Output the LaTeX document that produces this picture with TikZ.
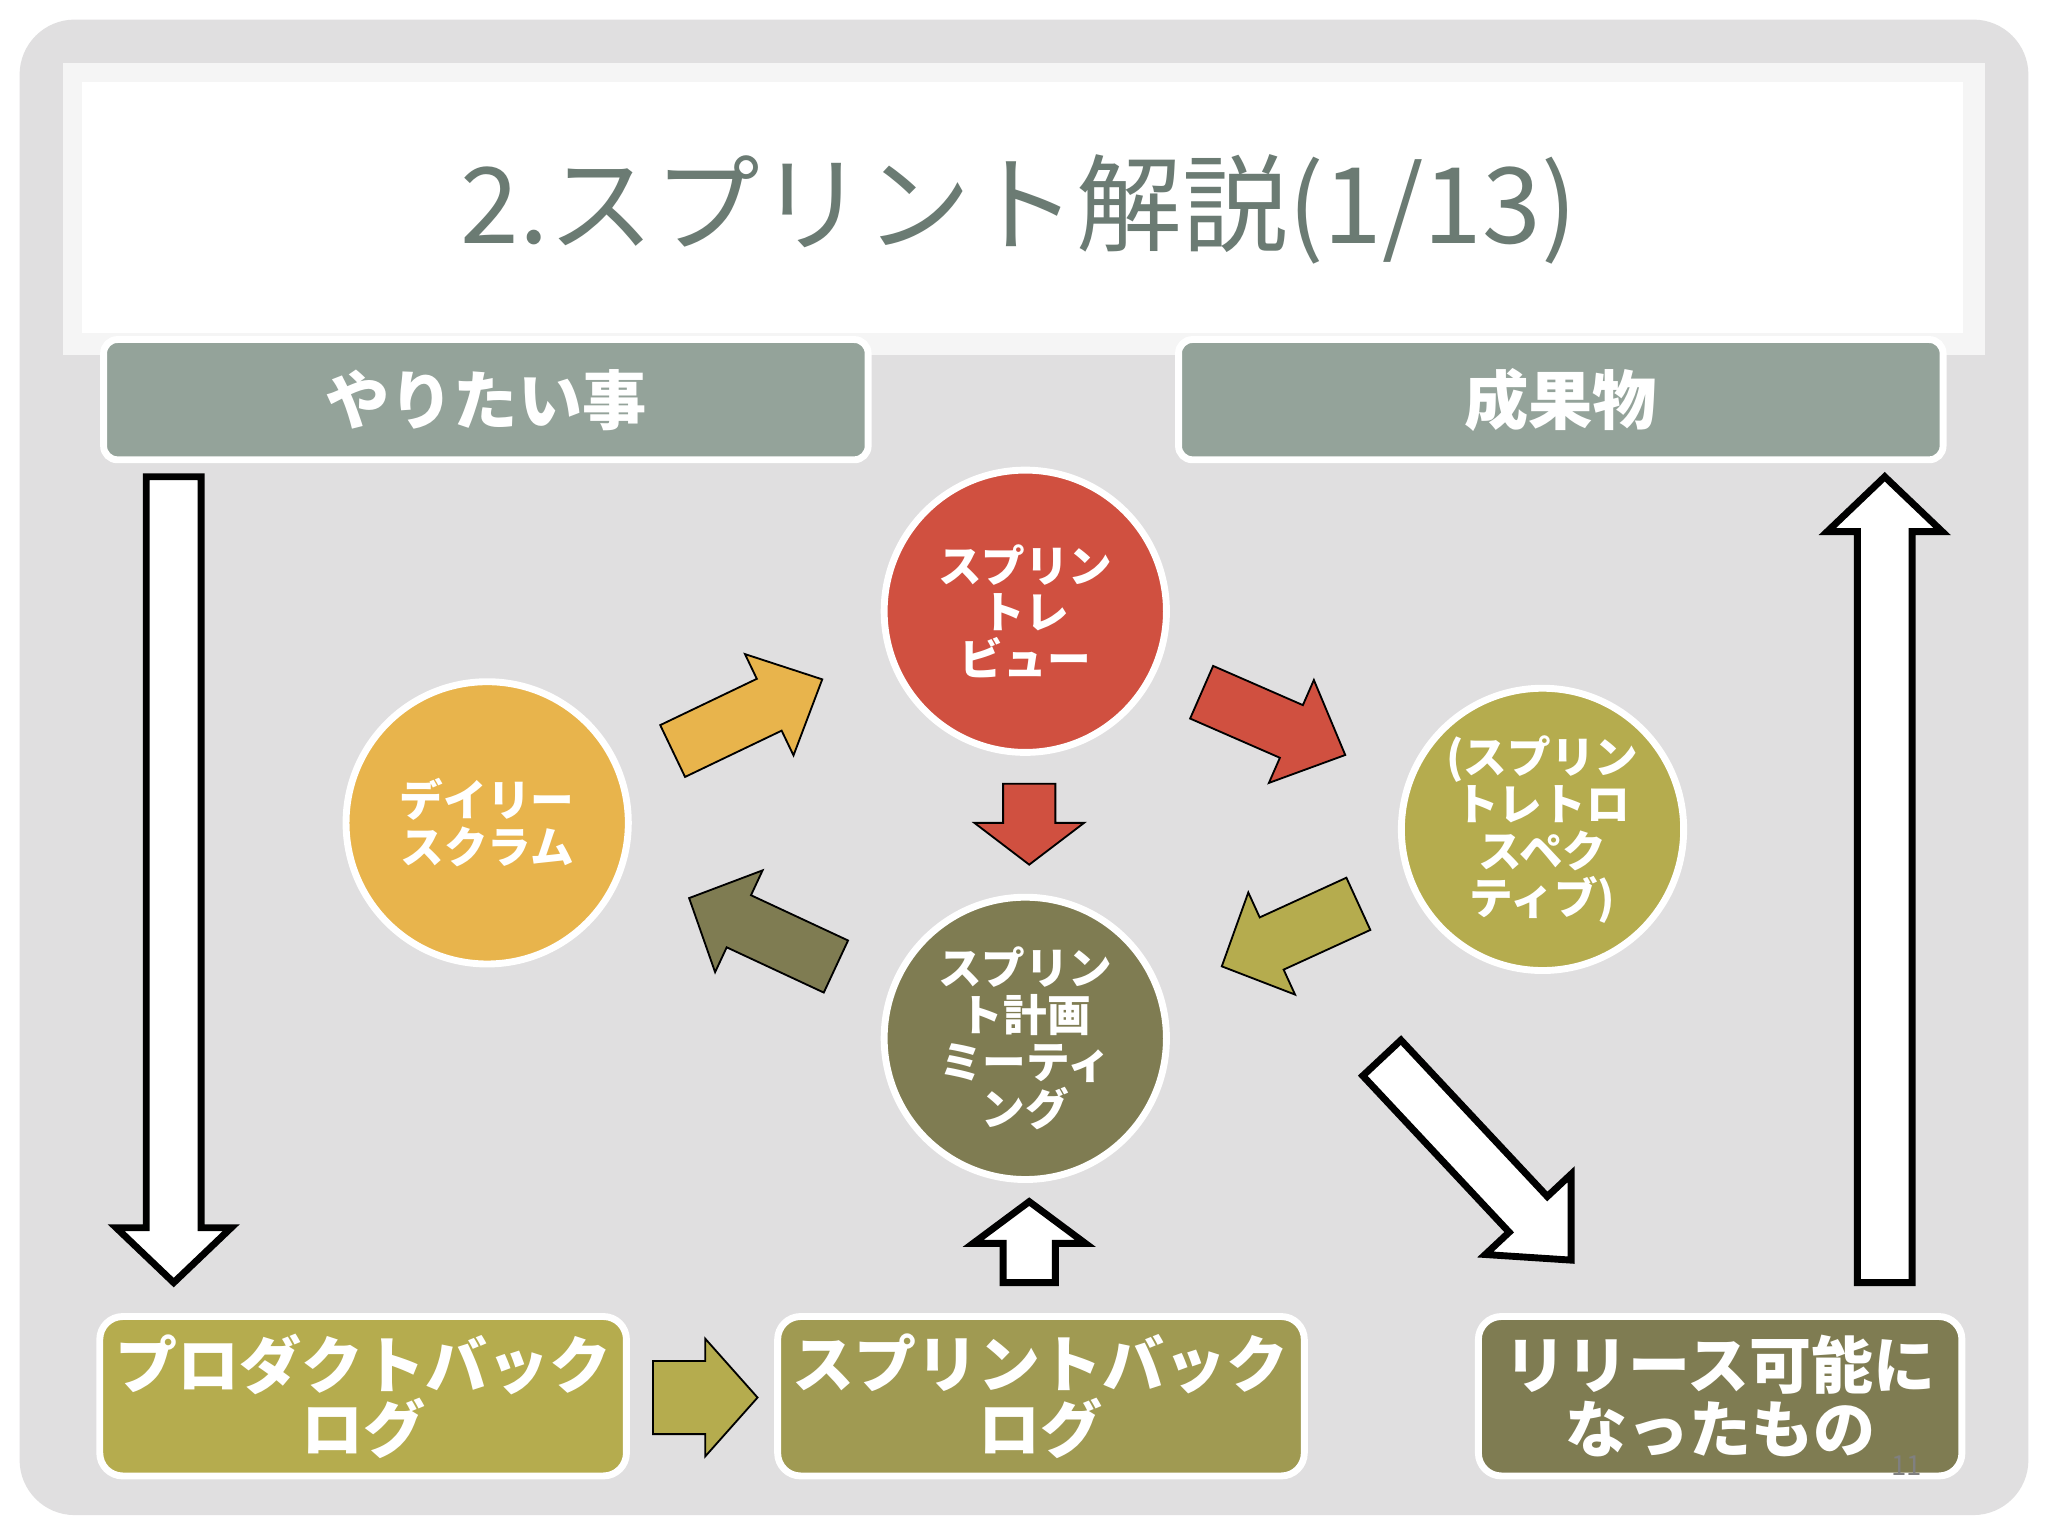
\documentclass[tikz,border=0pt]{standalone}
\usepackage{fontspec}
\setmainfont{Noto Sans CJK JP}
\definecolor{bg}{HTML}{E0DFE0}
\definecolor{hdr}{HTML}{94A39A}
\definecolor{ttl}{HTML}{6B7B73}
\definecolor{cred}{HTML}{D05040}
\definecolor{corg}{HTML}{E8B44C}
\definecolor{colv}{HTML}{B5AC4E}
\definecolor{cmid}{HTML}{A09A52}
\definecolor{cdrk}{HTML}{7F7C52}
\newcommand\barrow[8]{\begin{scope}[shift={(#2,#3)},rotate=#4]
\draw[#1] (0,-#6)--({#5-#8},-#6)--({#5-#8},-#7)--(#5,0)--({#5-#8},#7)--({#5-#8},#6)--(0,#6)--cycle;
\end{scope}}
\tikzset{
 hbox/.style={draw=white,line width=1.5pt,rounded corners=3pt,fill=hdr,text=white,font=\bfseries\fontsize{14}{16}\selectfont},
 bbox/.style={draw=white,line width=1.5pt,rounded corners=5pt,text=white,align=center,font=\bfseries\fontsize{13.5}{14}\selectfont},
 circ/.style={circle,draw=white,line width=1.5pt,minimum size=2.16cm,inner sep=0pt,text=white,align=center,font=\bfseries\fontsize{9.5}{10.2}\selectfont},
 warr/.style={fill=white,draw=black,line width=1.5pt},
}
\begin{document}
\begin{tikzpicture}[x=0.01cm,y=-0.01cm]
\useasboundingbox (0,0) rectangle (1568,1176);
\fill[white] (0,0) rectangle (1568,1176);
\fill[bg,rounded corners=12pt] (15,15) rectangle (1553,1160);
\fill[white!96!black] (48,48) rectangle (1520,272);
\fill[white] (63,63) rectangle (1503,255);
\node[text=ttl,font=\fontsize{23}{26}\selectfont] (title) at (780,160) {2.スプリント解説(1/13)};
\node[hbox,minimum width=5.85cm,minimum height=0.92cm] (want) at (372,306) {やりたい事};
\node[hbox,minimum width=5.85cm,minimum height=0.92cm] (res) at (1195,306) {成果物};
\node[circ,fill=cred] (rev) at (785,468) {スプリン\\トレ\\ビュー};
\node[circ,fill=corg] (daily) at (373,630) {デイリー\\スクラム};
\node[circ,fill=colv] (retro) at (1181,635) {(スプリン\\トレトロ\\スペク\\ティブ)};
\node[circ,fill=cdrk] (plan) at (785,795) {スプリン\\ト計画\\ミーティ\\ング};
\node[bbox,fill=colv,minimum width=3.7cm,minimum height=1.22cm] (pb) at (278,1069) {プロダクトバック\\ログ};
\node[bbox,fill=cmid,minimum width=3.69cm,minimum height=1.22cm] (sb) at (797,1069) {スプリントバック\\ログ};
\node[bbox,fill=cdrk,minimum width=3.7cm,minimum height=1.22cm] (rel) at (1317,1069) {リリース可能に\\なったもの};
\node[text=gray,font=\fontsize{6}{7}\selectfont] (pg) at (1460,1122) {11};
% colored arrows
\barrow{fill=corg}{515}{575}{25.6}{127}{22}{43}{45}
\barrow{fill=cred}{920}{530}{-23.6}{120}{22}{43}{45}
\barrow{fill=cred}{788}{600}{-90}{62}{20}{42}{32}
\barrow{fill=colv}{1040}{692}{204.6}{115}{22}{43}{42}
\barrow{fill=cdrk}{640}{740}{155}{124}{22}{43}{42}
\barrow{fill=colv}{500}{1070}{0}{80}{28}{45}{40}
% white arrows
\barrow{warr}{133}{365}{-90}{617}{21}{44}{42}
\barrow{warr}{1443}{982}{90}{617}{21}{44}{42}
\barrow{warr}{788}{982}{90}{62}{20}{43}{32}
\barrow{warr}{1058}{810}{-46.9}{212}{20}{45}{48}
\end{tikzpicture}
\end{document}
